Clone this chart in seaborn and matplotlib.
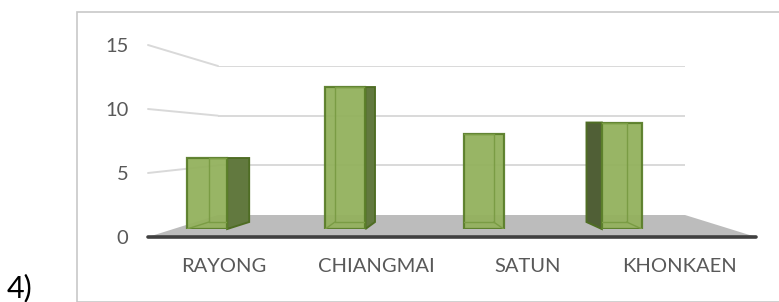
import matplotlib
matplotlib.use('Agg')
import pandas as pd
import matplotlib.pyplot as plt
import seaborn as sns
from matplotlib.patches import Polygon, Rectangle
from matplotlib.lines import Line2D

provinces = ['RAYONG', 'CHIANGMAI', 'SATUN', 'KHONKAEN']
counts = [6, 12, 8, 9]
y_ticks = [0, 5, 10, 15]
panel_label = '4)'

W, H = 779, 302

sns.set_style('white')
plt.rcParams['font.family'] = ['Lato', 'DejaVu Sans']

fig = plt.figure(figsize=(W / 100, H / 100), dpi=100)


def px_rect(x0, y_top, x1, y_bot):
    # pixel box (from top-left) -> figure rect
    return [x0 / W, 1 - y_bot / H, (x1 - x0) / W, (y_bot - y_top) / H]


def to_fig(pts):
    return fig.transFigure.inverted().transform(pts)


# back wall plane (gridlines)
ax_back = fig.add_axes(px_rect(218, 66, 685, 215), zorder=0)
ax_back.set_xlim(-0.5, len(provinces) - 0.5)
ax_back.set_ylim(0, 15)
ax_back.axis('off')
for v in y_ticks[1:]:
    ax_back.axhline(v, color='#d9d9d9', lw=1.4)

# front plane (ticks, labels, front edge)
ax_front = fig.add_axes(px_rect(148, 45, 756, 237), zorder=3)
ax_front.set_xlim(-0.5, len(provinces) - 0.5)
ax_front.set_ylim(0, 15)
ax_front.set_facecolor('none')
ax_front.set_xticks(range(len(provinces)))
ax_front.set_xticklabels(provinces)
ax_front.set_yticks(y_ticks)
ax_front.tick_params(length=0, labelsize=14.5, labelcolor='#595959')
ax_front.tick_params(axis='x', pad=15)
ax_front.tick_params(axis='y', pad=14)
for s in ax_front.spines.values():
    s.set_visible(False)
ax_front.axhline(0, color='#404040', lw=2.6, clip_on=False)

# perspective connectors from front ticks to back wall
x_left, x_right = ax_front.get_xlim()
for v in y_ticks[1:]:
    p1 = ax_front.transData.transform((x_left, v))
    p2 = ax_back.transData.transform((x_left, v))
    xy = to_fig([p1, p2])
    fig.add_artist(Line2D(xy[:, 0], xy[:, 1], color='#d9d9d9', lw=1.4,
                          transform=fig.transFigure, zorder=0.6))

# gray floor
floor = [ax_front.transData.transform((x_left, 0)),
         ax_front.transData.transform((x_right, 0)),
         ax_back.transData.transform((x_right, 0)),
         ax_back.transData.transform((x_left, 0))]
fig.add_artist(Polygon(to_fig(floor), closed=True, facecolor='#bcbcbc',
                       edgecolor='none', transform=fig.transFigure, zorder=0.5))

# bar plane
ax_bar = fig.add_axes(px_rect(138, 229 - 15 * 11.83, 691, 229), zorder=2)
ax_bar.set_facecolor('none')
df = pd.DataFrame({'province': provinces, 'count': counts})
sns.barplot(data=df, x='province', y='count', ax=ax_bar, color='#93b15d',
            saturation=1, width=0.29, edgecolor='#5b7f2a', linewidth=1.6)
ax_bar.set_xlim(-0.5, len(provinces) - 0.5)
ax_bar.set_ylim(0, 15)
ax_bar.axis('off')

# fake depth: side faces and back edges from each bar
vp = ax_back.transAxes.transform((0.5, 0))[0]
inv = ax_bar.transData.inverted()
for bar in ax_bar.patches:
    bar.set_zorder(3)
    bar.set_alpha(0.95)
    x0, y0 = ax_bar.transData.transform((bar.get_x(), 0))
    x1, y1 = ax_bar.transData.transform((bar.get_x() + bar.get_width(), bar.get_height()))
    cx = (x0 + x1) / 2
    dx = 0.09 * (vp - cx)
    if abs(dx) < 5:
        dx = 0
    dyb = 7
    if dx != 0:
        edge = x1 if dx > 0 else x0
        side_col = '#62793f' if dx > 0 else '#505f36'
        side = [(edge, y0), (edge + dx, y0 + dyb), (edge + dx, y1), (edge, y1)]
        ax_bar.add_patch(Polygon(inv.transform(side), closed=True, facecolor=side_col,
                                 edgecolor='#4f6d24', lw=1.4, zorder=2, clip_on=False))
    bdx = dx if dx != 0 else -(x1 - x0) * 0.25
    back = [(x0 + bdx, y0 + dyb), (x1 + bdx, y0 + dyb), (x1 + bdx, y1), (x0 + bdx, y1), (x0 + bdx, y0 + dyb)]
    bx, by = zip(*inv.transform(back))
    ax_bar.add_line(Line2D(bx, by, color='#7a9c44', lw=1.0, zorder=4))
    for xc in (x0, x1):
        diag = inv.transform([(xc, y0), (xc + bdx, y0 + dyb)])
        ax_bar.add_line(Line2D(diag[:, 0], diag[:, 1], color='#7a9c44', lw=1.0, zorder=4))
    for ln in ax_bar.lines[-3:]:
        ln.set_clip_path(bar)

# outer chart frame and panel label
fig.add_artist(Rectangle((77 / W, 0.5 / H), (W - 76) / W, (H - 12.5) / H, fill=False,
                         edgecolor='#c8c8c8', lw=1.2, transform=fig.transFigure))
fig.text(7 / W, 1 - 297 / H, panel_label, fontsize=22, color='#000000', va='baseline')

fig.savefig('out.png', dpi=100)
